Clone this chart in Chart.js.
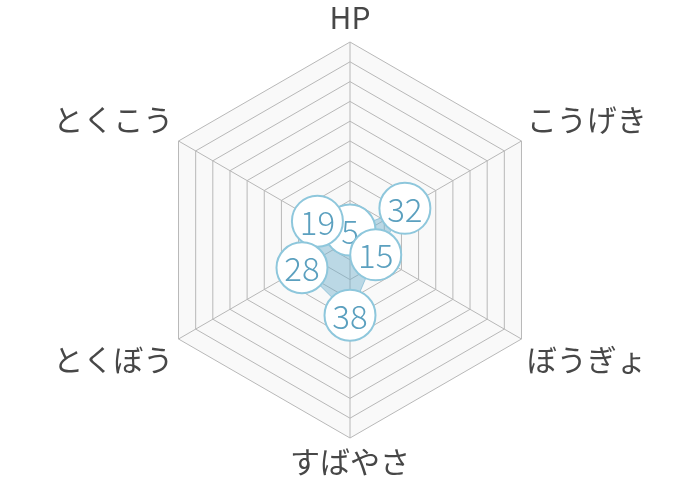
<!DOCTYPE html>
<html>
<head>
<meta charset="utf-8">
<script src="https://cdn.jsdelivr.net/npm/chart.js@4.4.0/dist/chart.umd.min.js"></script>
<style>
  html, body { margin: 0; padding: 0; background: #ffffff; }
  #wrap { width: 700px; height: 480px; }
</style>
</head>
<body>
<div id="wrap"><canvas id="c"></canvas></div>
<script>
const categories = ['HP', 'こうげき', 'ぼうぎょ', 'すばやさ', 'とくぼう', 'とくこう'];
const values = [5, 32, 15, 38, 28, 19];
const scaleMin = 0;
const scaleMax = 100;
const scaleStep = 10;

const badgePlugin = {
  id: 'badges',
  afterDatasetsDraw(chart) {
    const meta = chart.getDatasetMeta(0);
    const ctx = chart.ctx;
    const order = values.map((v, i) => i).sort((a, b) => values[a] - values[b]);
    ctx.save();
    for (const i of order) {
      const p = meta.data[i];
      ctx.beginPath();
      ctx.arc(p.x, p.y, 25.5, 0, Math.PI * 2);
      ctx.fillStyle = '#ffffff';
      ctx.fill();
      ctx.lineWidth = 2;
      ctx.strokeStyle = '#8ec7dc';
      ctx.stroke();
      ctx.fillStyle = '#5ba0bf';
      ctx.font = '300 33px "Noto Sans CJK JP", "Noto Sans", sans-serif';
      ctx.textAlign = 'center';
      ctx.textBaseline = 'middle';
      ctx.fillText(String(values[i]), p.x, p.y + 1);
    }
    ctx.restore();
  }
};

new Chart(document.getElementById('c'), {
  type: 'radar',
  data: {
    labels: categories,
    datasets: [{
      data: values,
      backgroundColor: 'rgba(110,175,205,0.45)',
      borderColor: 'rgba(110,175,205,0.6)',
      borderWidth: 1,
      pointRadius: 0,
      pointHoverRadius: 0
    }]
  },
  options: {
    responsive: true,
    maintainAspectRatio: false,
    animation: false,
    events: [],
    layout: { padding: 0 },
    plugins: { legend: { display: false }, tooltip: { enabled: false } },
    scales: {
      r: {
        min: scaleMin,
        max: scaleMax,
        backgroundColor: '#f9f9f9',
        ticks: { stepSize: scaleStep, display: false },
        grid: { color: '#b8b8b8', lineWidth: 1 },
        angleLines: { color: '#b8b8b8', lineWidth: 1 },
        pointLabels: {
          color: '#474747',
          padding: 6,
          font: { size: 30, family: '"Noto Sans CJK JP", "Noto Sans", sans-serif' }
        }
      }
    }
  },
  plugins: [badgePlugin]
});
</script>
</body>
</html>
